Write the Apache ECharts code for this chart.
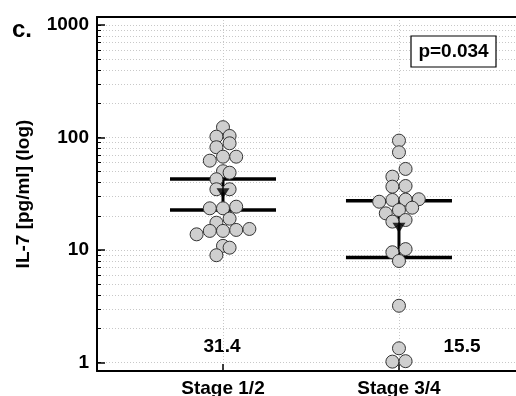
<!DOCTYPE html>
<html>
<head>
<meta charset="utf-8">
<script src="https://cdn.jsdelivr.net/npm/echarts@6/dist/echarts.min.js"></script>
<style>
  html, body { margin: 0; padding: 0; background: #fff; }
  #chart { width: 516px; height: 396px; }
</style>
</head>
<body>
<div id="chart"></div>
<script>
// groups along the x axis
const categories = ['Stage 1/2', 'Stage 3/4']

// IL-7 per patient (pg/ml)
const stage12 = [123.6, 101.8, 103.3, 88.9, 82.0, 62.3, 67.6, 67.6, 50.2, 48.7, 42.6, 34.7, 34.7,
  23.5, 23.5, 24.3, 19.0, 17.5, 14.8, 14.8, 15.1, 15.4, 13.8, 10.9, 10.5, 9.0]
// swarm column of each dot, in half dot widths
const stage12Slot = [0, -1, 1, 1, -1, -2, 0, 2, 0, 1, -1, -1, 1,
  -2, 0, 2, 1, -1, -2, 0, 2, 4, -4, 0, 1, -1]

const stage34 = [93.9, 74.0, 52.6, 44.9, 36.6, 37.1, 26.9, 27.9, 28.1, 28.3, 22.7, 23.8, 21.2,
  17.9, 18.5, 9.56, 10.2, 8.0, 3.2, 1.34, 1.02, 1.03]
const stage34Slot = [0, 0, 1, -1, -1, 1, -3, -1, 1, 3, 0, 2, -2,
  -1, 1, -1, 1, 0, 0, 0, -1, 1]

// geometric mean and its interval per group
const geoMean = [31.4, 15.5]
const ciLow = [22.7, 8.6]
const ciHigh = [42.9, 27.5]

const yTicks = [1, 10, 100, 1000]
const pText = 'p=0.034'

const FONT = 'Liberation Sans, Arial, sans-serif'
const slotW = 0.0375

const chart = echarts.init(document.getElementById('chart'))

// minor grid positions 2..9 in every decade
const minorTicks = []
for (let d = 0; d < yTicks.length - 1; d++) {
  for (let m = 1; m <= 9; m++) minorTicks.push(Math.log10(m * yTicks[d]))
}
minorTicks.push(Math.log10(yTicks[yTicks.length - 1]))
const majorTicks = yTicks.map(v => Math.log10(v))

const toPoints = (vals, slots, g) => vals.map((v, i) => [g + 1 + slots[i] * slotW, Math.log10(v)])
const dots = toPoints(stage12, stage12Slot, 0).concat(toPoints(stage34, stage34Slot, 1))
const ciData = categories.map((c, i) => [i + 1, Math.log10(ciLow[i]), Math.log10(ciHigh[i])])
const meanData = categories.map((c, i) => [i + 1, Math.log10(geoMean[i])])

const gridLine = { show: true, lineStyle: { color: '#c8c8c8', type: [1, 2], width: 1 } }
const blackLine = { show: true, onZero: false, lineStyle: { color: '#000', width: 2 } }

const option = {
  animation: false,
  grid: { left: 97, right: 0, top: 17, bottom: 25, containLabel: false, outerBoundsMode: 'none' },
  xAxis: [
    {
      type: 'value', min: 0.284, max: 2.665, position: 'bottom',
      axisLine: blackLine,
      axisTick: { show: true, inside: true, length: 7, customValues: [1, 2], lineStyle: { color: '#000', width: 1.5 } },
      axisLabel: {
        customValues: [1, 2], margin: 8,
        formatter: v => categories[Math.round(v) - 1],
        color: '#000', fontFamily: FONT, fontWeight: 'bold', fontSize: 19
      },
      splitLine: gridLine
    },
    {
      type: 'value', min: 0.284, max: 2.665, position: 'top',
      axisLine: blackLine, axisTick: { show: false }, axisLabel: { show: false }, splitLine: { show: false }
    }
  ],
  yAxis: [
    {
      type: 'value', min: -0.0746, max: 3.0711, position: 'left',
      axisLine: blackLine,
      axisTick: { show: true, inside: true, length: 4, customValues: minorTicks, lineStyle: { color: '#000', width: 1 } },
      axisLabel: { show: false },
      splitLine: gridLine
    },
    {
      type: 'value', min: -0.0746, max: 3.0711, position: 'left',
      axisLine: { show: false, onZero: false },
      axisTick: { show: true, inside: true, length: 8, customValues: majorTicks, lineStyle: { color: '#000', width: 1.5 } },
      axisLabel: {
        customValues: majorTicks, margin: 8,
        formatter: v => String(Math.round(Math.pow(10, v))),
        color: '#000', fontFamily: FONT, fontWeight: 'bold', fontSize: 19
      },
      splitLine: { show: false },
      name: 'IL-7 [pg/ml] (log)', nameLocation: 'middle', nameGap: 64,
      nameTextStyle: { color: '#000', fontFamily: FONT, fontWeight: 'bold', fontSize: 19 }
    }
  ],
  series: [
    {
      // interval bars with the connecting stem
      type: 'custom',
      z: 1,
      data: ciData,
      renderItem: (params, api) => {
        const lo = api.coord([api.value(0), api.value(1)])
        const hi = api.coord([api.value(0), api.value(2)])
        const half = 53
        const bar = { stroke: '#000', lineWidth: 3.5 }
        return {
          type: 'group',
          children: [
            { type: 'line', shape: { x1: lo[0] - half, y1: lo[1], x2: lo[0] + half, y2: lo[1] }, style: bar },
            { type: 'line', shape: { x1: hi[0] - half, y1: hi[1], x2: hi[0] + half, y2: hi[1] }, style: bar },
            { type: 'line', shape: { x1: lo[0], y1: lo[1], x2: hi[0], y2: hi[1] }, style: { stroke: '#000', lineWidth: 3 } }
          ]
        }
      }
    },
    {
      type: 'scatter',
      z: 2,
      data: dots,
      symbol: 'circle',
      symbolSize: 13,
      itemStyle: { color: '#cfcfcf', borderColor: '#333', borderWidth: 1, opacity: 1 }
    },
    {
      // arrow head at the geometric mean
      type: 'scatter',
      z: 3,
      data: meanData,
      symbol: 'triangle',
      symbolRotate: 180,
      symbolSize: [13, 10],
      symbolOffset: [0, -1],
      itemStyle: { color: '#000' }
    }
  ],
  graphic: [
    { type: 'text', left: 12, top: 18, style: { text: 'c.', font: 'bold 24px ' + FONT, fill: '#000' } },
    { type: 'text', x: 222, y: 347, style: { text: String(geoMean[0]), font: 'bold 19px ' + FONT, fill: '#000', align: 'center', verticalAlign: 'middle' } },
    { type: 'text', x: 462, y: 347, style: { text: String(geoMean[1]), font: 'bold 19px ' + FONT, fill: '#000', align: 'center', verticalAlign: 'middle' } },
    { type: 'rect', shape: { x: 411, y: 36, width: 85, height: 31 }, style: { fill: '#fff', stroke: '#000', lineWidth: 1.2 }, z: 10 },
    { type: 'text', x: 453.5, y: 52, z: 11, style: { text: pText, font: 'bold 19px ' + FONT, fill: '#000', align: 'center', verticalAlign: 'middle' } }
  ]
}

chart.setOption(option)
</script>
</body>
</html>
